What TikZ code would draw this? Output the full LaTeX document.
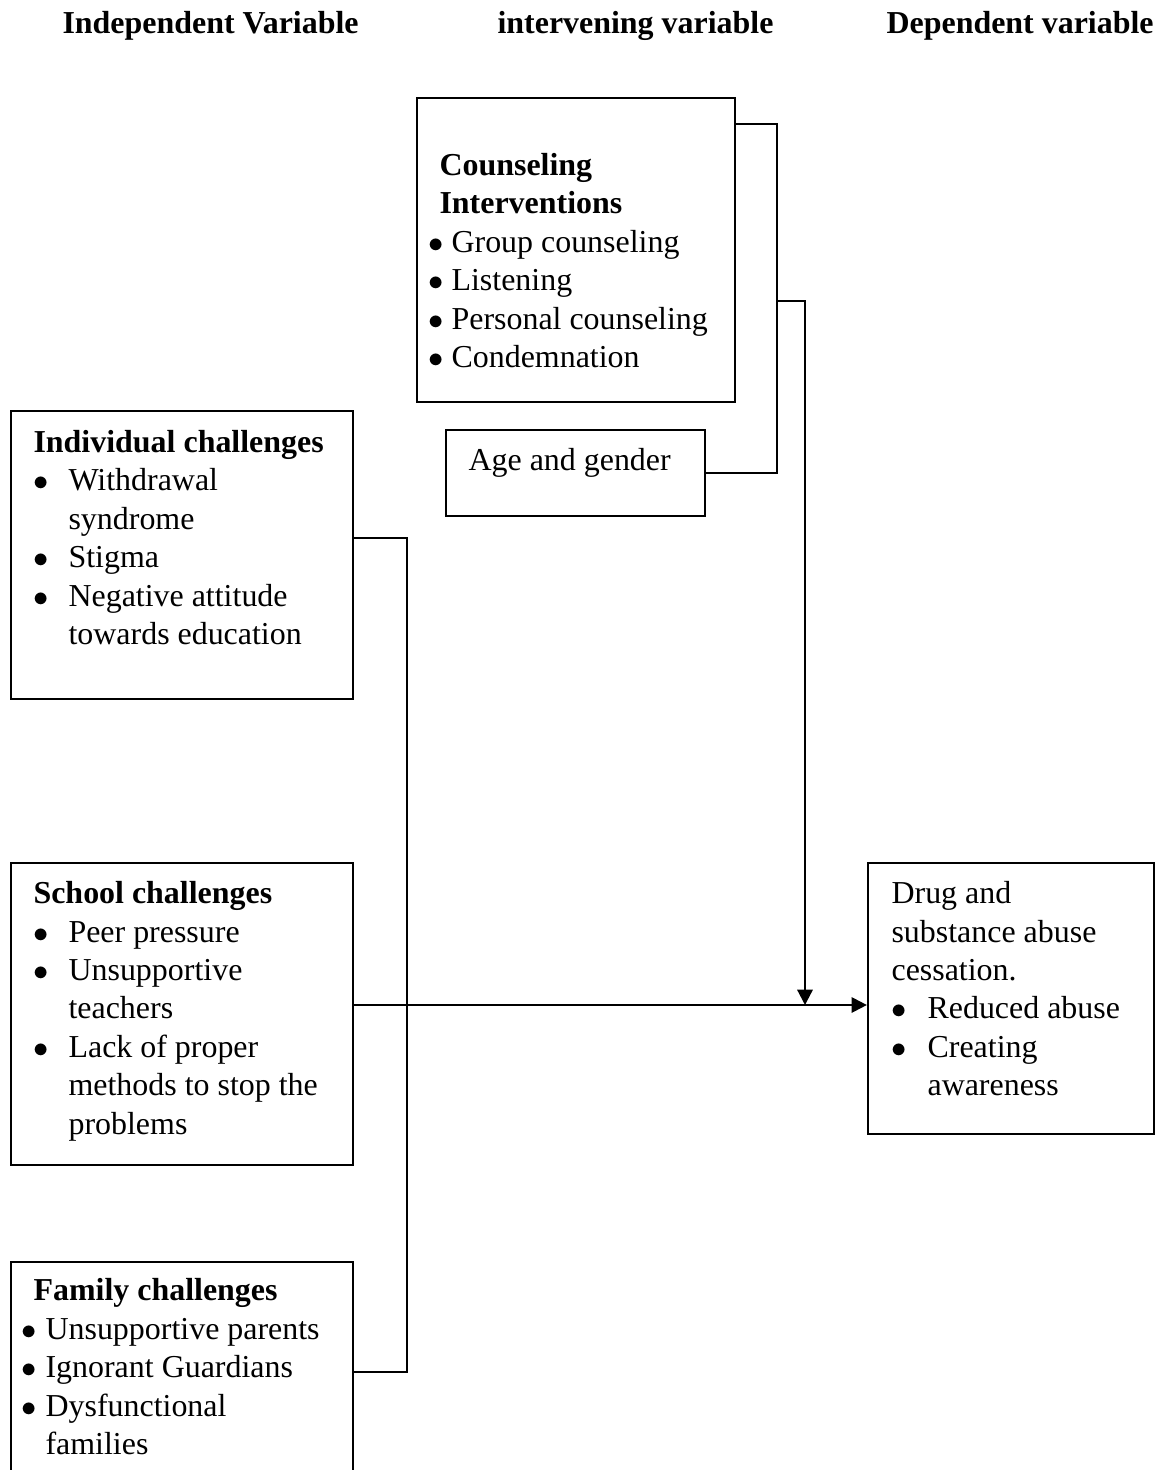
\documentclass[tikz,border=0pt]{standalone}
\usepackage{fontspec}
\setmainfont{Liberation Serif}
\usetikzlibrary{fit,arrows.meta}
\newlength\px
\setlength\px{0.3585pt}
\newcommand\itm[2]{\makebox[#1][l]{$\bullet$}#2}

\begin{document}
\begin{tikzpicture}[x=0.3585pt, y=-0.3585pt,
    box/.style={draw, line width=0.8pt, inner sep=0pt, fit={#1}},
    txt/.style={anchor=north west, align=left, inner sep=0pt, font=\fontsize{11.45}{13.8}\selectfont},
    head/.style={anchor=base west, inner sep=0pt, font=\fontsize{11.45}{13.8}\selectfont\bfseries},
    line/.style={line width=0.8pt},
    arr/.style={line width=0.8pt, -{Triangle[length=5.5pt,width=5.5pt]}}]
      \clip (0,0) rectangle (1163,1470);

      % Headings
      \node[head] (indephead) at (62,34) {Independent Variable};
      \node[head] (intervhead) at (497,34) {intervening variable};
      \node[head] (dephead) at (886,34) {Dependent variable};

      % Boxes
      \node[box={(417,98) (735,402)}] (couns) {};
      \node[box={(446,430) (705,516)}] (age) {};
      \node[box={(11,411) (353,699)}] (indiv) {};
      \node[box={(11,863) (353,1165)}] (school) {};
      \node[box={(11,1262) (353,1490)}] (family) {};
      \node[box={(868,863) (1154,1134)}] (dep) {};

      % Box texts
      \node[txt] (counstext) at (428,148) {\strut\hspace*{11\px}\textbf{Counseling}\\
        \hspace*{11\px}\textbf{Interventions}\\
        \itm{23\px}{Group counseling}\\
        \itm{23\px}{Listening}\\
        \itm{23\px}{Personal counseling}\\
        \itm{23\px}{Condemnation}};
      \node[txt] (agetext) at (468,443) {\strut Age and gender};
      \node[txt] (indivtext) at (33,425) {\strut\textbf{Individual challenges}\\
        \itm{35\px}{Withdrawal}\\
        \hspace*{35\px}syndrome\\
        \itm{35\px}{Stigma}\\
        \itm{35\px}{Negative attitude}\\
        \hspace*{35\px}towards education};
      \node[txt] (schooltext) at (33,876) {\strut\textbf{School challenges}\\
        \itm{35\px}{Peer pressure}\\
        \itm{35\px}{Unsupportive}\\
        \hspace*{35\px}teachers\\
        \itm{35\px}{Lack of proper}\\
        \hspace*{35\px}methods to stop the\\
        \hspace*{35\px}problems};
      \node[txt] (familytext) at (21,1273) {\strut\hspace*{12\px}\textbf{Family challenges}\\
        \itm{24\px}{Unsupportive parents}\\
        \itm{24\px}{Ignorant Guardians}\\
        \itm{24\px}{Dysfunctional}\\
        \hspace*{24\px}families};
      \node[txt] (deptext) at (891,876) {\strut Drug and\\
        substance abuse\\
        cessation.\\
        \itm{36\px}{Reduced abuse}\\
        \itm{36\px}{Creating}\\
        \hspace*{36\px}awareness};

      % Connections
      \coordinate (topknee) at (777,124);
      \coordinate (modknee) at (805,301);
      \coordinate (bustop) at (407,538);
      \coordinate (busmid) at (407,1005);
      \coordinate (busbot) at (407,1372);
      \draw[line] (couns.east |- topknee) -- (topknee) |- (age.east);
      \draw[arr] (topknee |- modknee) -- (modknee) -- (modknee |- busmid);
      \draw[line] (indiv.east |- bustop) -- (bustop) -- (busbot) -- (family.east |- busbot);
      \draw[arr] (school.east |- busmid) -- (dep.west |- busmid);
\end{tikzpicture}
\end{document}
